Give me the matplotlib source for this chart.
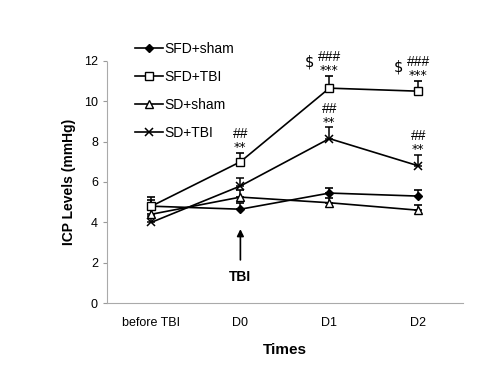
import matplotlib
matplotlib.use("Agg")
import matplotlib.pyplot as plt
from matplotlib.lines import Line2D
import numpy as np

plt.rcParams['font.family'] = ['Liberation Sans', 'DejaVu Sans']

times = ["before TBI", "D0", "D1", "D2"]
sfd_sham = [4.8, 4.65, 5.45, 5.3]
sfd_sham_err = [0.3, 0.3, 0.25, 0.3]
sfd_tbi = [4.8, 7.0, 10.65, 10.5]
sfd_tbi_err = [0.45, 0.45, 0.6, 0.5]
sd_sham = [4.4, 5.25, 4.97, 4.6]
sd_sham_err = [0.3, 0.35, 0.25, 0.25]
sd_tbi = [4.0, 5.8, 8.15, 6.8]
sd_tbi_err = [0.3, 0.4, 0.55, 0.55]

fig = plt.figure(figsize=(5.02, 3.88), dpi=100)
ax = fig.add_axes([0.213, 0.219, 0.709, 0.624])
x = np.arange(len(times)) + 0.5

series = [
    ("SFD+sham", sfd_sham, sfd_sham_err, dict(marker='D', markersize=4, markerfacecolor='black')),
    ("SFD+TBI", sfd_tbi, sfd_tbi_err, dict(marker='s', markersize=5.5, markerfacecolor='white')),
    ("SD+sham", sd_sham, sd_sham_err, dict(marker='^', markersize=5.5, markerfacecolor='white')),
    ("SD+TBI", sd_tbi, sd_tbi_err, dict(marker='x', markersize=5.5, mew=1.1)),
]
handles = []
for label, vals, err, kw in series:
    ax.errorbar(x, vals, yerr=[np.zeros(len(err)), err], color='black', lw=1.2,
                capsize=3, capthick=1.2, elinewidth=1.1, markeredgecolor='black', **kw)
    handles.append(Line2D([], [], color='black', lw=1.2, markeredgecolor='black',
                          label=label, **kw))

ax.set_xlim(0, 4)
ax.set_ylim(0, 12)
ax.set_yticks(range(0, 13, 2))
ax.set_xticks(x)
ax.set_xticklabels(times, fontsize=9)
ax.tick_params(axis='x', length=0, pad=10)
ax.tick_params(axis='y', labelsize=9, length=3, color='#999999', direction='out')
for s in ['top', 'right']:
    ax.spines[s].set_visible(False)
for s in ['left', 'bottom']:
    ax.spines[s].set_color('#aaaaaa')
    ax.spines[s].set_linestyle((0, (1, 1)))
ax.set_ylabel("ICP Levels (mmHg)", fontsize=10, fontweight='bold', labelpad=6)
ax.set_xlabel("Times", fontsize=11, fontweight='bold', labelpad=10)

def mark(xi, top, lines, dollar=False):
    ax.annotate(lines[1], xy=(xi, top), xytext=(0, -1), textcoords='offset points',
                ha='center', va='bottom', fontsize=9, family='DejaVu Sans')
    ax.annotate(lines[0], xy=(xi, top), xytext=(0, 8.5), textcoords='offset points',
                ha='center', va='bottom', fontsize=10)
    if dollar:
        ax.annotate("$", xy=(xi, top), xytext=(-14, 5), textcoords='offset points',
                    ha='center', va='bottom', fontsize=10.5, family='DejaVu Sans')

mark(x[1], sfd_tbi[1] + sfd_tbi_err[1], ["##", "**"])
mark(x[2], sfd_tbi[2] + sfd_tbi_err[2], ["###", "***"], dollar=True)
mark(x[3], sfd_tbi[3] + sfd_tbi_err[3], ["###", "***"], dollar=True)
mark(x[2], sd_tbi[2] + sd_tbi_err[2], ["##", "**"])
mark(x[3], sd_tbi[3] + sd_tbi_err[3], ["##", "**"])

ax.annotate("", xy=(x[1], 3.8), xytext=(x[1], 2.0),
            arrowprops=dict(arrowstyle='-|>', color='black', lw=1.2, mutation_scale=10))
ax.text(x[1], 1.3, "TBI", ha='center', va='center', fontsize=10, fontweight='bold')

leg = ax.legend(handles=handles, loc='upper left', bbox_to_anchor=(0.045, 1.13),
                frameon=False, fontsize=10, labelspacing=1.0, handlelength=1.95,
                handletextpad=0.15, numpoints=1)

fig.savefig("out.png", dpi=100)
